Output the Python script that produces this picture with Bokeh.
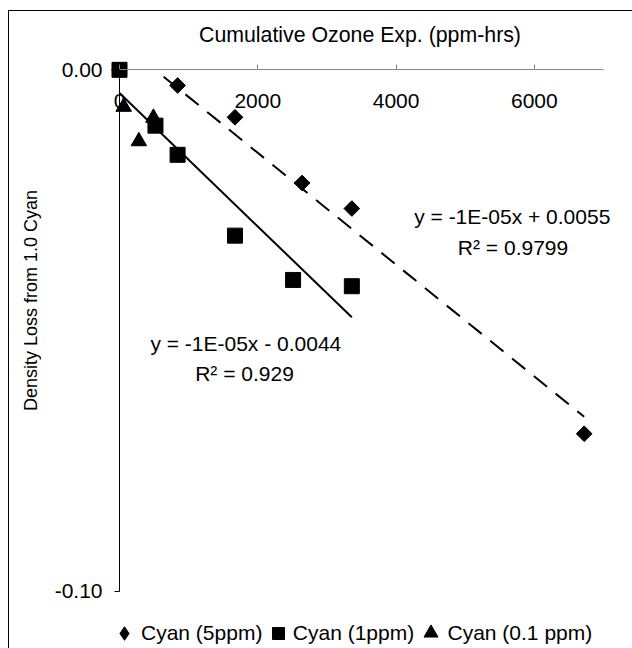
import numpy as np
from bokeh.plotting import figure
from bokeh.models import (Range1d, FixedTicker, NumeralTickFormatter, Legend,
                          LegendItem, Label)
from bokeh.embed import file_html
from bokeh.resources import INLINE

# ---------------- data ----------------
x_5ppm = [0, 840, 1670, 2640, 3360, 6720]
y_5ppm = [0.0, -0.0030, -0.0091, -0.0217, -0.0266, -0.0698]
x_1ppm = [0, 520, 840, 1670, 2510, 3360]
y_1ppm = [0.0, -0.0107, -0.0163, -0.0318, -0.0403, -0.0415]
x_01ppm = [60, 280, 490]
y_01ppm = [-0.0071, -0.0137, -0.0092]

x_ticks = [0, 2000, 4000, 6000]
y_ticks = [-0.10, 0.00]
series_labels = ["Cyan (5ppm)", "Cyan (1ppm)", "Cyan (0.1 ppm)"]
eq_5ppm = ["y = -1E-05x + 0.0055", "R\u00b2 = 0.9799"]
eq_1ppm = ["y = -1E-05x - 0.0044", "R\u00b2 = 0.929"]
x_title = "Cumulative Ozone Exp. (ppm-hrs)"
y_title = "Density Loss from 1.0 Cyan"

FONT = "Liberation Sans"
FS = "21px"

# The frame fills the chart area; both axes cross at the origin.
p = figure(width=623, height=637,
           x_range=Range1d(-1591, 7419), y_range=Range1d(-0.11099, 0.01119),
           x_axis_location="above", output_backend="svg", toolbar_location=None,
           min_border_left=0, min_border_right=0, min_border_top=0,
           min_border_bottom=0)
p.margin = (11, 0, 0, 9)
p.styles = {"outline": "1px solid #000000"}
p.title.visible = False
p.outline_line_color = None
p.grid.visible = False
p.background_fill_color = "white"
p.border_fill_color = "white"

# ---- x axis at y = 0 (ticks above the line, labels under it) ----
xa = p.xaxis[0]
xa.fixed_location = 0
xa.bounds = (0, 7000)
xa.ticker = FixedTicker(ticks=x_ticks)
xa.major_tick_out = 5
xa.major_tick_in = 0
xa.minor_tick_line_color = None
xa.axis_line_color = "#868686"
xa.major_tick_line_color = "#868686"
xa.major_label_standoff = -43
xa.major_label_text_font = FONT
xa.major_label_text_font_size = FS
xa.major_label_text_color = "black"

# ---- y axis at x = 0 ----
ya = p.yaxis[0]
ya.fixed_location = 0
ya.bounds = (-0.10, 0.0)
ya.ticker = FixedTicker(ticks=y_ticks)
ya.formatter = NumeralTickFormatter(format="0.00")
ya.major_tick_out = 5
ya.major_tick_in = 0
ya.minor_tick_line_color = None
ya.axis_line_color = "#000000"
ya.major_tick_line_color = "#000000"
ya.major_label_standoff = 12
ya.major_label_text_font = FONT
ya.major_label_text_font_size = FS
ya.major_label_text_color = "black"

# ---- axis titles ----
p.add_layout(Label(x=3478, y=0.00659, text=x_title, text_align="center",
                   text_baseline="middle", text_font=FONT,
                   text_font_size="21.3px", text_color="black"))
p.add_layout(Label(x=-1287, y=-0.04424, text=y_title, angle=np.pi / 2,
                   text_align="center", text_baseline="middle",
                   text_font=FONT, text_font_size="18px", text_color="black"))

# ---- linear trendlines (least squares, clipped at the plot area top y = 0) ----
m5, b5 = np.polyfit(x_5ppm, y_5ppm, 1)
x5_start = max(min(x_5ppm), -b5 / m5) if b5 > 0 else min(x_5ppm)
xs5 = [x5_start, max(x_5ppm)]
p.line(xs5, [m5 * v + b5 for v in xs5], line_color="black", line_width=2,
       line_dash="17 11", line_dash_offset=17)

m1, b1 = np.polyfit(x_1ppm, y_1ppm, 1)
xs1 = [min(x_1ppm), max(x_1ppm)]
p.line(xs1, [m1 * v + b1 for v in xs1], line_color="black", line_width=2)

# ---- markers ----
r_tri = p.scatter(x_01ppm, y_01ppm, marker="triangle", size=15.5, color="black")
r_dia = p.scatter(x_5ppm, y_5ppm, marker="square", angle=np.pi / 4, size=11.1,
                  color="black")
r_sq = p.scatter(x_1ppm, y_1ppm, marker="square", size=15, color="black")
# legend key for the diamond series (legend glyphs are never rotated);
# a single NaN point, so nothing is drawn in the plot itself
r_dia_key = p.scatter(x=[np.nan], y=[np.nan], marker="diamond", color="black")

# ---- trendline equations ----
for txt, xx, yy in [(eq_5ppm[0], 5680, -0.0281), (eq_5ppm[1], 5691, -0.0340),
                    (eq_1ppm[0], 1827, -0.0525), (eq_1ppm[1], 1808, -0.0583)]:
    p.add_layout(Label(x=xx, y=yy, text=txt, text_align="center",
                       text_baseline="middle", text_font=FONT,
                       text_font_size=FS, text_color="black"))

# ---- legend (one entry per box so each symbol keeps its own size) ----
def add_legend(label, renderer, lx, g):
    leg = Legend(items=[LegendItem(label=label, renderers=[renderer], index=0)],
                 location=(lx, 15.5 - g / 2), orientation="horizontal",
                 glyph_width=g, glyph_height=g, label_height=g,
                 label_standoff=0, padding=0, margin=0, spacing=0,
                 border_line_color=None, background_fill_alpha=0,
                 label_text_font=FONT, label_text_font_size=FS,
                 label_text_color="black")
    p.add_layout(leg, "center")

add_legend(series_labels[0], r_dia_key, 98, 34)
add_legend(series_labels[1], r_sq, 253.8, 30)
add_legend(series_labels[2], r_tri, 403.5, 35)

open("out.html", "w").write(file_html(p, INLINE))
